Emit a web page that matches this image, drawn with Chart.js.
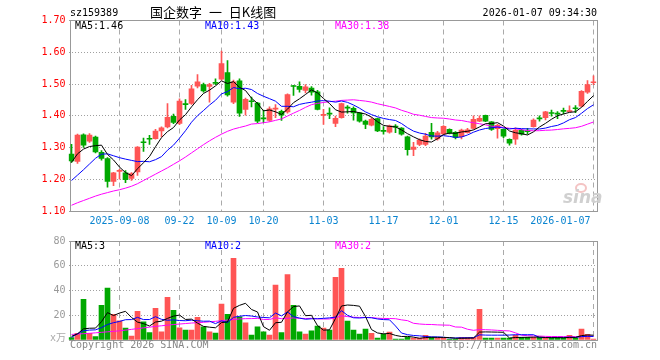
<!DOCTYPE html>
<html lang="zh-CN">
<head>
<meta charset="utf-8">
<title>国企数字 日K线图</title>
<script src="https://cdn.jsdelivr.net/npm/chart.js@4.4.1/dist/chart.umd.min.js"></script>
<style>
  html, body { margin: 0; padding: 0; background: #fff; }
  #box { position: relative; width: 660px; height: 360px; overflow: hidden;
         font-family: "DejaVu Sans Mono", monospace; font-size: 10px; line-height: 12px; color: #000; }
  canvas { position: absolute; left: 0; }
  .txt { position: absolute; white-space: pre; }
</style>
</head>
<body>
<div id="box">
  <canvas id="priceChart" width="660" height="232" style="top:0"></canvas>
  <canvas id="volumeChart" width="660" height="128" style="top:232px"></canvas>

  <div class="txt" style="left:70px;top:7px">sz159389</div>
  <div class="txt" style="left:150px;top:4px;font-family:'Noto Sans CJK SC',sans-serif;font-size:13px;line-height:16px;word-spacing:4px">国企数字 一 日K线图</div>
  <div class="txt" style="right:63px;top:7px">2026-01-07 09:34:30</div>

  <div class="txt" id="ma5Text" style="left:75px;top:20px;color:#000"></div>
  <div class="txt" id="ma10Text" style="left:205px;top:20px;color:#0000ff"></div>
  <div class="txt" id="ma30Text" style="left:335px;top:20px;color:#ff00ff"></div>

  <div class="txt" id="vma5Text" style="left:75px;top:240px;color:#000"></div>
  <div class="txt" id="vma10Text" style="left:205px;top:240px;color:#0000ff"></div>
  <div class="txt" id="vma30Text" style="left:335px;top:240px;color:#ff00ff"></div>

  <div class="txt" style="right:594px;top:332px;color:#aaa">x万</div>
  <div class="txt" style="left:70px;top:339px;color:#888">Copyright 2026 SINA.COM</div>
  <div class="txt" style="right:63px;top:339px;color:#888">http://finance.sina.com.cn</div>

  <!-- sina watermark -->
  <div class="txt" style="left:575px;top:183px;width:8px;height:6px;border:2px solid #f4c4c4;border-radius:50%"></div>
  <div class="txt" style="left:563px;top:189px;font:italic bold 17px 'DejaVu Sans';line-height:17px;color:#d0d0d0">sina</div>
</div>

<script>
'use strict';

const dates = ['08-27','08-28','08-29','09-01','09-02','09-03','09-04','09-05','09-08','09-09',
  '09-10','09-11','09-12','09-15','09-16','09-17','09-18','09-19','09-22','09-23',
  '09-24','09-25','09-26','09-29','09-30','10-09','10-10','10-13','10-14','10-15',
  '10-16','10-17','10-20','10-21','10-22','10-23','10-24','10-27','10-28','10-29',
  '10-30','10-31','11-03','11-04','11-05','11-06','11-07','11-10','11-11','11-12',
  '11-13','11-14','11-17','11-18','11-19','11-20','11-21','11-24','11-25','11-26',
  '11-27','11-28','12-01','12-02','12-03','12-04','12-05','12-08','12-09','12-10',
  '12-11','12-12','12-15','12-16','12-17','12-18','12-19','12-22','12-23','12-24',
  '12-25','12-26','12-29','12-30','12-31','01-05','01-06','01-07'];

const tickDates = ['09-08','09-22','10-09','10-20','11-03','11-17','12-01','12-15','01-07'];
const tickTexts = ['2025-09-08','09-22','10-09','10-20','11-03','11-17','12-01','12-15','2026-01-07'];

const opens = [1.279,1.256,1.340,1.320,1.333,1.285,1.265,1.193,1.225,1.220,
  1.203,1.223,1.317,1.328,1.328,1.352,1.365,1.398,1.376,1.438,
  1.439,1.493,1.498,1.492,1.504,1.515,1.536,1.443,1.510,1.420,
  1.447,1.440,1.392,1.385,1.421,1.414,1.412,1.494,1.493,1.480,
  1.487,1.475,1.401,1.407,1.376,1.394,1.426,1.423,1.409,1.383,
  1.370,1.391,1.353,1.348,1.367,1.361,1.334,1.294,1.310,1.310,
  1.348,1.327,1.343,1.357,1.348,1.334,1.347,1.360,1.383,1.401,
  1.381,1.359,1.357,1.326,1.326,1.354,1.352,1.366,1.391,1.394,
  1.408,1.406,1.415,1.413,1.423,1.430,1.474,1.504];

const highs = [1.310,1.342,1.343,1.344,1.336,1.290,1.268,1.222,1.231,1.227,
  1.221,1.303,1.330,1.338,1.357,1.365,1.438,1.405,1.453,1.451,
  1.496,1.530,1.503,1.502,1.516,1.604,1.574,1.512,1.516,1.456,
  1.459,1.442,1.418,1.428,1.435,1.418,1.469,1.496,1.507,1.498,
  1.492,1.480,1.420,1.425,1.399,1.440,1.432,1.428,1.411,1.386,
  1.394,1.393,1.366,1.371,1.372,1.363,1.336,1.316,1.327,1.345,
  1.376,1.351,1.369,1.359,1.350,1.358,1.360,1.400,1.400,1.402,
  1.382,1.373,1.358,1.327,1.362,1.357,1.360,1.390,1.400,1.414,
  1.418,1.413,1.424,1.431,1.432,1.479,1.511,1.526];

const lows = [1.253,1.250,1.300,1.316,1.283,1.260,1.175,1.180,1.200,1.189,
  1.196,1.212,1.288,1.310,1.326,1.333,1.362,1.375,1.372,1.420,
  1.436,1.488,1.474,1.443,1.498,1.512,1.462,1.438,1.398,1.402,
  1.428,1.378,1.378,1.382,1.394,1.385,1.408,1.464,1.474,1.472,
  1.465,1.418,1.373,1.391,1.366,1.392,1.408,1.386,1.380,1.359,
  1.368,1.350,1.342,1.345,1.347,1.339,1.276,1.274,1.306,1.306,
  1.326,1.323,1.340,1.343,1.327,1.327,1.345,1.358,1.381,1.381,
  1.354,1.329,1.331,1.307,1.310,1.339,1.342,1.364,1.383,1.387,
  1.399,1.391,1.406,1.412,1.410,1.428,1.470,1.498];

const closes = [1.258,1.339,1.307,1.339,1.286,1.266,1.193,1.220,1.227,1.199,
  1.218,1.301,1.315,1.326,1.352,1.362,1.395,1.379,1.446,1.435,
  1.485,1.507,1.478,1.498,1.502,1.564,1.466,1.507,1.408,1.452,
  1.444,1.383,1.390,1.422,1.423,1.402,1.467,1.492,1.483,1.491,
  1.474,1.420,1.403,1.405,1.392,1.438,1.424,1.409,1.383,1.373,
  1.389,1.352,1.351,1.368,1.364,1.342,1.293,1.301,1.323,1.336,
  1.333,1.346,1.367,1.345,1.332,1.355,1.356,1.389,1.392,1.383,
  1.357,1.370,1.336,1.314,1.355,1.342,1.350,1.386,1.390,1.412,
  1.407,1.405,1.414,1.415,1.422,1.477,1.498,1.505];

// volume, 万
const volumes = [2.0,5.3,32.8,5.3,2.7,28.0,41.9,20.8,15.5,9.6,
  3.2,23.2,14.7,5.9,25.6,6.7,34.4,24.0,9.9,8.0,
  8.0,18.4,10.7,6.7,5.6,29.0,20.8,65.9,18.7,13.9,
  4.0,10.7,6.7,4.0,44.3,5.9,52.8,28.0,6.7,4.8,
  7.5,11.2,9.6,8.0,50.7,57.9,15.2,8.0,4.8,8.8,
  5.3,1.6,4.5,6.4,0.8,0.8,2.1,1.6,1.6,3.7,
  2.1,1.6,1.6,0.8,0.8,2.1,2.1,2.1,24.8,1.6,
  1.6,1.6,1.6,1.6,3.7,2.1,2.1,2.1,2.1,1.6,
  1.6,2.1,1.6,3.7,1.6,8.8,4.5,0.8];

// MA values at the left edge (their history is off-screen)
const ma5Head = [1.253,1.280,1.295,1.303];
const ma10Head = [1.196,1.213,1.230,1.248,1.266,1.279,1.280,1.274,1.268];
const ma30Head = [1.118,1.126,1.133,1.140,1.147,1.153,1.158,1.163,1.167,1.172,
  1.178,1.186,1.196,1.206,1.216,1.226,1.236,1.247,1.258,1.270,
  1.283,1.296,1.309,1.321,1.332,1.342,1.351,1.358,1.363];
const volMa5Head = [3.0,5.0,9.0,9.5];
const volMa10Head = [2.1,5.0,7.5,8.0,8.2,10.0,12.5,14.0,15.0];
const volMa30Head = [4.5,4.8,5.1,5.4,5.8,6.2,6.6,7.0,7.4,8.0,
  8.6,9.2,9.8,10.4,11.0,11.5,12.0,12.5,12.9,13.3,
  13.7,14.0,14.3,14.7,15.1,15.6,16.1,16.6,17.0];

const RED = '#ff5555';
const GREEN = '#00a800';
const MONO = 'DejaVu Sans Mono';

Chart.defaults.font.family = MONO;
Chart.defaults.font.size = 10;

function movingAverage(values, n, head) {
  return values.map((v, i) => {
    if (i < n - 1) return head[i];
    let sum = 0;
    for (let k = i - n + 1; k <= i; k++) sum += values[k];
    return sum / n;
  });
}

const ma5 = movingAverage(closes, 5, ma5Head);
const ma10 = movingAverage(closes, 10, ma10Head);
const ma30 = movingAverage(closes, 30, ma30Head);
const vma5 = movingAverage(volumes, 5, volMa5Head);
const vma10 = movingAverage(volumes, 10, volMa10Head);
const vma30 = movingAverage(volumes, 30, volMa30Head);

const colors = closes.map((c, i) => c >= opens[i] ? RED : GREEN);
const tickIdx = tickDates.map(d => dates.indexOf(d));
const last = dates.length - 1;

function dateLabel(value, index) {
  const k = tickIdx.indexOf(index);
  if (k < 0) return '';
  // last date sits to the left of its line
  return index === last ? tickTexts[k] + ' '.repeat(11) : tickTexts[k];
}

function gridColor(ctx) {
  return tickIdx.includes(ctx.index) ? '#aaaaaa' : 'rgba(0,0,0,0)';
}

const framePlugin = {
  id: 'frame',
  beforeDatasetsDraw(chart) {
    const a = chart.chartArea;
    const ctx = chart.ctx;
    const top = Math.floor(a.top) + 0.5;
    const bottom = Math.floor(a.bottom) + 0.5;
    ctx.save();
    ctx.strokeStyle = '#999999';
    ctx.lineWidth = 1;
    ctx.strokeRect(70.5, top, 527, bottom - top);
    ctx.restore();
  }
};

function maLine(label, data, color) {
  return { type: 'line', label: label, data: data, borderColor: color, borderWidth: 1,
    pointRadius: 0, tension: 0, fill: false, order: 0 };
}

function xScale(showLabels) {
  return {
    offset: true,
    grid: { offset: false, color: gridColor, drawTicks: false },
    border: { display: false, dash: [5, 4] },
    ticks: { display: showLabels, autoSkip: false, maxRotation: 0, minRotation: 0, padding: 4,
      color: '#0a84d0', font: { family: MONO, size: 10 }, callback: dateLabel },
    afterFit(s) { s.height = showLabels ? 21 : 20; s.paddingLeft = 0; s.paddingRight = 0; }
  };
}

new Chart(document.getElementById('priceChart'), {
  type: 'bar',
  data: {
    labels: dates,
    datasets: [
      maLine('MA5', ma5, '#000000'),
      maLine('MA10', ma10, '#0000ff'),
      maLine('MA30', ma30, '#ff00ff'),
      { label: 'wick', data: dates.map((d, i) => [lows[i], highs[i]]), backgroundColor: colors,
        barThickness: 1, grouped: false, order: 2 },
      { label: 'body', data: dates.map((d, i) => [opens[i], closes[i]]), backgroundColor: colors,
        barThickness: 5, minBarLength: 1, grouped: false, order: 1 }
    ]
  },
  options: {
    responsive: false,
    animation: false,
    events: [],
    layout: { padding: { top: 20.5, right: 63.5, bottom: 0, left: 0 } },
    plugins: { legend: { display: false }, tooltip: { enabled: false } },
    scales: {
      x: xScale(true),
      y: {
        min: 1.1,
        max: 1.7,
        ticks: { stepSize: 0.1, padding: 3, color: '#ff0000', font: { family: MONO, size: 10 },
          callback: v => v.toFixed(2) },
        grid: { color: '#a0a0a0', drawTicks: false },
        border: { display: false, dash: [1, 2] },
        afterFit(s) { s.width = 68.5; }
      }
    }
  },
  plugins: [framePlugin]
});

new Chart(document.getElementById('volumeChart'), {
  type: 'bar',
  data: {
    labels: dates,
    datasets: [
      maLine('MA5', vma5, '#000000'),
      maLine('MA10', vma10, '#0000ff'),
      maLine('MA30', vma30, '#ff00ff'),
      { label: 'volume', data: volumes, backgroundColor: colors, barThickness: 5, order: 1 }
    ]
  },
  options: {
    responsive: false,
    animation: false,
    events: [],
    layout: { padding: { top: 8, right: 63.5, bottom: 0, left: 0 } },
    plugins: { legend: { display: false }, tooltip: { enabled: false } },
    scales: {
      x: xScale(false),
      y: {
        min: 0,
        max: 80,
        ticks: { stepSize: 20, padding: 3, color: '#999999', font: { family: MONO, size: 10 },
          callback: v => v === 0 ? '' : v },
        grid: { color: '#a0a0a0', drawTicks: false },
        border: { display: false, dash: [1, 2] },
        afterFit(s) { s.width = 68.5; }
      }
    }
  },
  plugins: [framePlugin]
});

document.getElementById('ma5Text').textContent = 'MA5:' + ma5[last].toFixed(2);
document.getElementById('ma10Text').textContent = 'MA10:' + ma10[last].toFixed(2);
document.getElementById('ma30Text').textContent = 'MA30:' + ma30[last].toFixed(2);
document.getElementById('vma5Text').textContent = 'MA5:' + Math.floor(vma5[last]);
document.getElementById('vma10Text').textContent = 'MA10:' + Math.floor(vma10[last]);
document.getElementById('vma30Text').textContent = 'MA30:' + Math.floor(vma30[last]);
</script>
</body>
</html>
